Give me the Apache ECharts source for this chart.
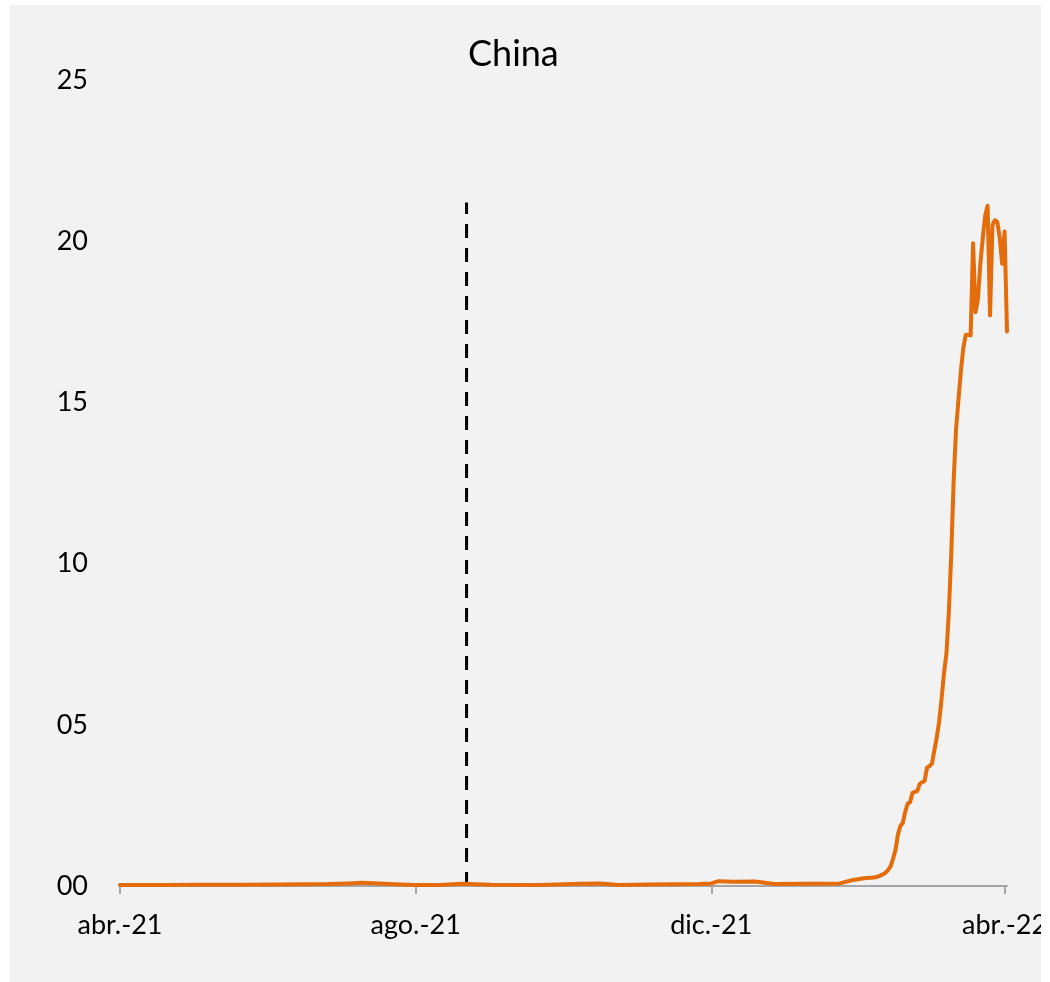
<!DOCTYPE html>
<html>
<head>
<meta charset="utf-8">
<title>China</title>
<script src="https://cdn.jsdelivr.net/npm/echarts@6/dist/echarts.min.js"></script>
<style>
  html, body { margin: 0; padding: 0; background: #ffffff; }
  #chart {
    position: absolute;
    left: 10px;
    top: 5px;
    width: 1031px;
    height: 977px;
    background: #f2f2f2;
  }
</style>
</head>
<body>
<div id="chart"></div>
<script>
// Daily observations (date, value)
const dates = [
  '2021-04-01', '2021-04-20', '2021-05-04', '2021-05-20', '2021-06-06', '2021-06-26',
  '2021-07-04', '2021-07-10', '2021-07-19', '2021-07-31', '2021-08-11', '2021-08-20',
  '2021-09-01', '2021-09-21', '2021-10-08', '2021-10-16', '2021-10-24', '2021-11-05',
  '2021-11-26', '2021-12-01', '2021-12-04', '2021-12-10', '2021-12-19', '2021-12-27',
  '2022-01-10', '2022-01-23', '2022-01-28', '2022-02-02', '2022-02-06', '2022-02-07',
  '2022-02-08', '2022-02-10', '2022-02-11', '2022-02-12', '2022-02-13', '2022-02-14',
  '2022-02-15', '2022-02-16', '2022-02-17', '2022-02-18', '2022-02-19', '2022-02-20',
  '2022-02-21', '2022-02-22', '2022-02-23', '2022-02-24', '2022-02-25', '2022-02-26',
  '2022-02-27', '2022-02-28', '2022-03-01', '2022-03-02', '2022-03-03', '2022-03-04',
  '2022-03-05', '2022-03-06', '2022-03-07', '2022-03-08', '2022-03-09', '2022-03-10',
  '2022-03-11', '2022-03-12', '2022-03-13', '2022-03-14', '2022-03-15', '2022-03-16',
  '2022-03-17', '2022-03-18', '2022-03-19', '2022-03-20', '2022-03-21', '2022-03-22',
  '2022-03-23', '2022-03-24', '2022-03-25', '2022-03-26', '2022-03-27', '2022-03-28',
  '2022-03-29', '2022-03-30', '2022-03-31', '2022-04-01', '2022-04-02'
];
const values = [
  0.03, 0.03, 0.04, 0.04, 0.05, 0.06,
  0.08, 0.10, 0.07, 0.03, 0.03, 0.07,
  0.04, 0.03, 0.07, 0.08, 0.03, 0.05,
  0.06, 0.08, 0.15, 0.13, 0.14, 0.06,
  0.07, 0.08, 0.18, 0.24, 0.26, 0.28,
  0.30, 0.37, 0.42, 0.50, 0.62, 0.85,
  1.12, 1.60, 1.86, 1.96, 2.30, 2.55,
  2.60, 2.89, 2.92, 2.95, 3.17, 3.22,
  3.26, 3.67, 3.72, 3.79, 4.20, 4.60,
  5.10, 5.80, 6.60, 7.20, 8.50, 10.30,
  12.60, 14.20, 15.10, 16.00, 16.70, 17.10,
  17.10, 17.08, 19.94, 17.80, 18.20, 19.30,
  20.10, 20.80, 21.10, 17.70, 20.50, 20.65,
  20.60, 20.10, 19.30, 20.30, 17.20
];

// Reference date marked with the vertical dashed line
const markerDate = '2021-08-22';
const markerTop = 21.2;

// Axis ticks and labels
const xTickDates = ['2021-04-01', '2021-08-01', '2021-12-01', '2022-04-01'];
const xTickLabels = ['abr.-21', 'ago.-21', 'dic.-21', 'abr.-22'];
const yTickLabels = ['00', '05', '10', '15', '20', '25'];

const axisStart = '2021-04-01';
const axisEnd = '2022-04-02';

// The x axis runs in whole days counted from axisStart
function dayIndex(s) {
  const p = s.split('-').map(Number);
  const a = axisStart.split('-').map(Number);
  return Math.round((Date.UTC(p[0], p[1] - 1, p[2]) - Date.UTC(a[0], a[1] - 1, a[2])) / 86400000);
}

const xTickDays = xTickDates.map(dayIndex);
const seriesData = dates.map((d, i) => [dayIndex(d), values[i]]);
const markerData = [[dayIndex(markerDate), 0], [dayIndex(markerDate), markerTop]];

const FONT = 'Lato, "Open Sans", sans-serif';
const AXIS_GREY = '#a6a6a6';

const chart = echarts.init(document.getElementById('chart'), null, { renderer: 'canvas' });

chart.setOption({
  backgroundColor: '#f2f2f2',
  animation: false,
  title: {
    text: 'China',
    left: 453,
    top: 26,
    textStyle: { fontFamily: FONT, fontSize: 36, fontWeight: 'normal', color: '#000' }
  },
  grid: {
    left: 110, right: 34, top: 75, bottom: 96,
    containLabel: false,
    outerBoundsMode: 'none'
  },
  xAxis: {
    type: 'value',
    min: dayIndex(axisStart),
    max: dayIndex(axisEnd),
    axisLine: { show: true, lineStyle: { color: AXIS_GREY, width: 2 } },
    axisTick: {
      show: true,
      customValues: xTickDays,
      length: 8,
      inside: false,
      lineStyle: { color: AXIS_GREY, width: 2 }
    },
    axisLabel: {
      customValues: xTickDays,
      margin: 26,
      fontFamily: FONT,
      fontSize: 27,
      color: '#000',
      hideOverlap: false,
      formatter: function (v) {
        const i = xTickDays.indexOf(v);
        return i >= 0 ? xTickLabels[i] : '';
      }
    },
    splitLine: { show: false }
  },
  yAxis: {
    type: 'value',
    min: 0,
    max: 25,
    interval: 5,
    axisLine: { show: false },
    axisTick: { show: false },
    splitLine: { show: false },
    axisLabel: {
      margin: 32,
      fontFamily: FONT,
      fontSize: 27,
      color: '#000',
      formatter: function (v) { return yTickLabels[Math.round(v / 5)]; }
    }
  },
  series: [
    {
      name: 'marker',
      type: 'line',
      data: markerData,
      symbol: 'none',
      lineStyle: { color: '#000', width: 3, type: [14, 10] },
      z: 1
    },
    {
      name: 'China',
      type: 'line',
      data: seriesData,
      symbol: 'none',
      smooth: false,
      lineStyle: { color: '#e46c0a', width: 4, join: 'round', cap: 'round' },
      z: 2
    }
  ]
});
</script>
</body>
</html>
